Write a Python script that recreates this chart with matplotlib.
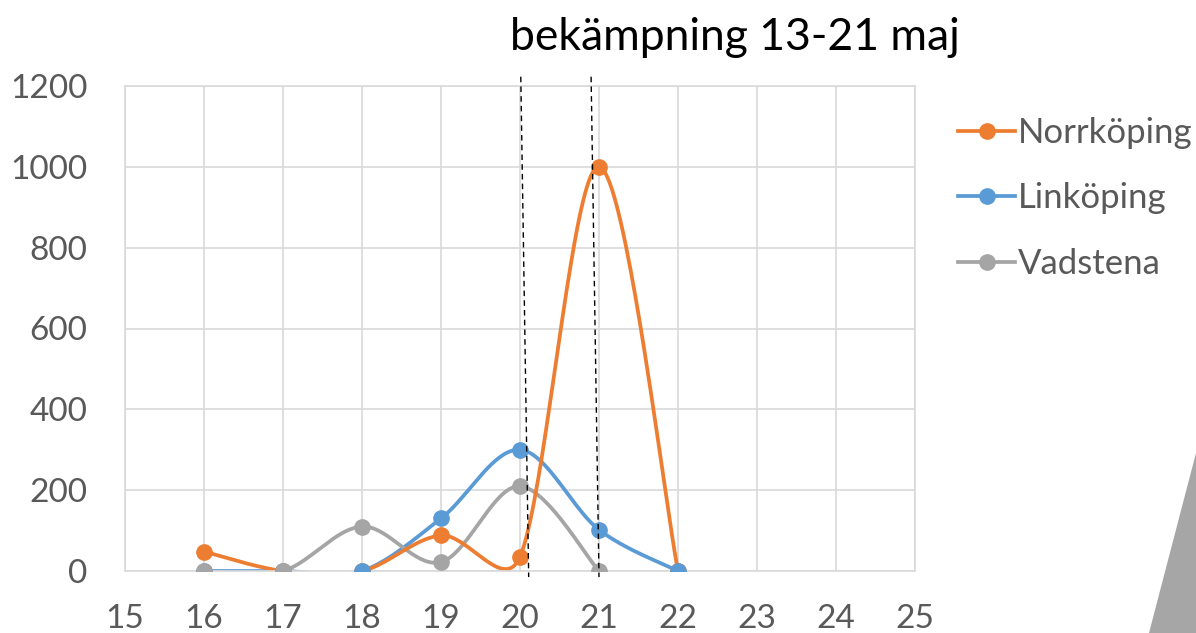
import matplotlib
matplotlib.use('Agg')
import matplotlib.pyplot as plt
from matplotlib.lines import Line2D
from matplotlib.patches import Polygon
import numpy as np

plt.rcParams['font.family'] = ['Lato', 'DejaVu Sans']

# DATA
weeks = [16, 17, 18, 19, 20, 21, 22]
norrkoping = [48, 0, 0, 88, 35, 1000, 0]
linkoping = [0, 0, 0, 130, 300, 102, 0]
vadstena_weeks = [16, 17, 18, 19, 20, 21]
vadstena = [0, 0, 110, 22, 210, 0]

series_names = ['Norrköping', 'Linköping', 'Vadstena']
series_colors = ['#ED7D31', '#5B9BD5', '#A5A5A5']

x_ticks = list(range(15, 26))
y_ticks = [0, 200, 400, 600, 800, 1000, 1200]

# dashed markers for the control period (slightly slanted, drawn by hand)
dash_x_top = [20.01, 20.90]
dash_x_bot = [20.11, 21.00]
dash_y = [1223, -15]

title = 'bekämpning 13-21 maj'

fig = plt.figure(figsize=(11.96, 6.33), dpi=100)
ax = fig.add_axes([125/1196, 1-571/633, 790/1196, 485/633])
ax.set_xlim(15, 25)
ax.set_ylim(0, 1200)
ax.set_xticks(x_ticks)
ax.set_yticks(y_ticks)
ax.grid(True, color='#d9d9d9', lw=1.2)
ax.set_axisbelow(True)
for s in ax.spines.values():
    s.set_color('#d9d9d9')
    s.set_linewidth(1.2)
ax.tick_params(length=0, labelsize=24, labelcolor='#595959')
ax.tick_params(axis='y', pad=27)
ax.tick_params(axis='x', pad=24)


def smooth(xs, ys, n=40):
    # excel style smoothed line: bezier, control points limited on short segments
    pts = ax.transData.transform(np.column_stack([xs, ys]))
    out = [pts[0]]
    m = len(pts)
    for i in range(m - 1):
        p0 = pts[i - 1] if i > 0 else pts[i]
        p1 = pts[i]
        p2 = pts[i + 1]
        p3 = pts[i + 2] if i + 2 < m else pts[i + 1]
        d12 = np.hypot(*(p2 - p1))
        d02 = np.hypot(*(p2 - p0))
        d13 = np.hypot(*(p3 - p1))
        f1 = 1/6 if d02/6 < d12/2 else d12/(2*d02)
        f2 = 1/6 if d13/6 < d12/2 else d12/(2*d13)
        c1 = p1 + f1 * (p2 - p0)
        c2 = p2 - f2 * (p3 - p1)
        t = np.linspace(0, 1, n)[1:, None]
        b = (1-t)**3*p1 + 3*(1-t)**2*t*c1 + 3*(1-t)*t**2*c2 + t**3*p2
        out.extend(b)
    out = ax.transData.inverted().transform(np.array(out))
    return out[:, 0], out[:, 1]


all_x = [weeks, weeks, vadstena_weeks]
all_y = [norrkoping, linkoping, vadstena]
line_z = [2.3, 2.1, 2.2]
for xs, ys, c, z in zip(all_x, all_y, series_colors, line_z):
    sx, sy = smooth(xs, ys)
    ax.plot(sx, sy, color=c, lw=2.7, zorder=z, solid_capstyle='round')
for k, (xs, ys, c) in enumerate(zip(all_x, all_y, series_colors)):
    ax.plot(xs, ys, 'o', color=c, ms=11, zorder=4 + k * 0.1)

for xt, xb in zip(dash_x_top, dash_x_bot):
    ax.plot([xt, xb], dash_y, color='black', lw=1.0, ls=(0, (4, 3)),
            zorder=5, clip_on=False)

handles = [Line2D([], [], color=c, lw=2.7, marker='o', ms=11) for c in series_colors]
leg = fig.legend(handles, series_names, loc='upper left',
                 bbox_to_anchor=(958/1196, 1-117/633), frameon=False,
                 fontsize=25, handlelength=1.65, handletextpad=0.08,
                 labelspacing=0.96, borderpad=0, borderaxespad=0)
for t in leg.get_texts():
    t.set_color('#595959')

fig.text(735/1196, 1-37/633, title, ha='center', va='center', fontsize=32, color='black')

fig.patches.append(Polygon([(1.0, 1-453/633), (1.0, 0), (1149/1196, 0)],
                           closed=True, transform=fig.transFigure,
                           facecolor='#A6A6A6', edgecolor='none'))

fig.savefig('out.png', dpi=100)
